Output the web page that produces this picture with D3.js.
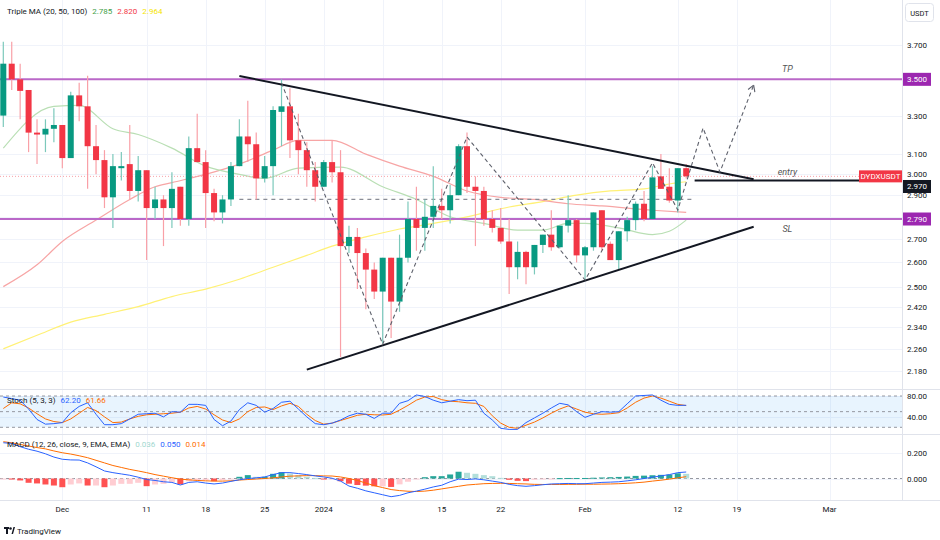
<!DOCTYPE html>
<html><head><meta charset="utf-8">
<script src="https://cdn.jsdelivr.net/npm/d3@7"></script>
<style>
body{margin:0;background:#fff;}
svg{display:block;font-family:Roboto,"Noto Sans",sans-serif;}
</style></head>
<body><svg id="c" width="940" height="540"></svg>
<script>
// ---------------- DATA ----------------
const firstDay = "2023-11-24";
const open  = [3.30,3.59,3.50,3.44,3.21,3.20,3.23,3.25,3.08,3.41,3.35,3.14,3.07,2.89,3.03,3.05,2.92,3.02,2.84,2.88,2.84,2.94,2.79,3.13,3.06,2.91,2.82,2.88,3.04,3.19,3.15,2.98,3.04,3.32,3.35,3.17,3.12,3.02,2.94,3.06,3.01,2.67,2.71,2.64,2.57,2.48,2.62,2.44,2.62,2.79,2.75,2.80,2.85,2.83,2.90,3.14,2.94,2.92,2.79,2.75,2.69,2.58,2.645,2.58,2.675,2.72,2.665,2.76,2.785,2.63,2.665,2.83,2.68,2.61,2.735,2.785,2.86,2.79,2.99,2.94,2.875,3.03];
const high  = [3.72,3.72,3.59,3.44,3.28,3.28,3.34,3.25,3.43,3.48,3.52,3.25,3.12,3.10,3.11,3.25,3.09,3.02,2.94,2.90,3.01,2.94,3.19,3.31,3.12,2.93,2.90,3.06,3.28,3.38,3.21,3.09,3.35,3.50,3.45,3.31,3.16,3.06,3.07,3.17,3.12,2.76,2.75,2.66,2.60,2.62,2.62,2.72,2.87,2.94,2.88,3.04,2.93,2.95,3.15,3.21,2.99,2.94,2.83,2.84,2.79,2.69,2.65,2.675,2.72,2.83,2.76,2.90,2.79,2.67,2.82,2.83,2.69,2.735,2.80,2.87,2.92,3.04,3.10,3.03,3.03,3.05];
const low   = [3.24,3.44,3.28,3.11,3.05,3.11,3.16,3.03,3.08,3.27,2.93,3.00,2.84,2.75,2.97,2.88,2.87,2.61,2.79,2.67,2.75,2.76,2.76,3.06,2.75,2.78,2.77,2.85,3.04,3.06,2.88,2.96,2.90,3.14,3.08,3.00,2.94,2.87,2.94,2.96,2.23,2.64,2.49,2.41,2.45,2.28,2.30,2.40,2.60,2.65,2.65,2.75,2.79,2.77,2.90,2.91,2.67,2.76,2.73,2.68,2.47,2.53,2.51,2.55,2.64,2.65,2.66,2.73,2.60,2.53,2.65,2.65,2.61,2.57,2.69,2.74,2.78,2.79,2.93,2.865,2.82,2.98];
const close = [3.59,3.50,3.435,3.21,3.20,3.23,3.25,3.08,3.41,3.35,3.14,3.07,2.89,3.04,3.04,2.92,3.02,2.84,2.88,2.84,2.93,2.79,3.13,3.06,2.91,2.82,2.88,3.04,3.19,3.15,2.98,3.04,3.33,3.35,3.17,3.12,3.02,2.94,3.06,3.01,2.67,2.71,2.64,2.57,2.48,2.62,2.44,2.62,2.79,2.75,2.80,2.85,2.83,2.90,3.14,2.94,2.92,2.79,2.75,2.69,2.58,2.645,2.58,2.675,2.72,2.665,2.76,2.785,2.63,2.665,2.82,2.665,2.61,2.735,2.785,2.86,2.79,2.985,2.93,2.875,3.03,2.99];

const ma20 = [["2023-11-24",3.13],["2023-11-30",3.35],["2023-12-03",3.355],["2023-12-07",3.23],["2023-12-10",3.20],["2023-12-14",3.13],["2023-12-18",3.04],["2023-12-22",3.00],["2023-12-25",2.98],["2023-12-29",3.03],["2024-01-03",3.035],["2024-01-08",2.94],["2024-01-12",2.88],["2024-01-16",2.80],["2024-01-20",2.77],["2024-01-24",2.74],["2024-01-27",2.74],["2024-01-30",2.77],["2024-02-01",2.77],["2024-02-05",2.75],["2024-02-09",2.72],["2024-02-11",2.735],["2024-02-13",2.785]];
const ma50 = [["2023-11-24",2.50],["2023-11-28",2.59],["2023-12-01",2.69],["2023-12-05",2.785],["2023-12-09",2.88],["2023-12-12",2.94],["2023-12-14",2.96],["2023-12-18",3.00],["2023-12-22",3.05],["2023-12-26",3.12],["2023-12-29",3.17],["2024-01-02",3.17],["2024-01-06",3.10],["2024-01-10",3.04],["2024-01-14",2.99],["2024-01-18",2.92],["2024-01-22",2.89],["2024-01-26",2.88],["2024-01-30",2.86],["2024-02-03",2.85],["2024-02-09",2.83],["2024-02-13",2.82]];
const ma100 = [["2023-11-24",2.26],["2023-11-28",2.31],["2023-12-02",2.36],["2023-12-06",2.39],["2023-12-10",2.42],["2023-12-14",2.46],["2023-12-18",2.49],["2023-12-22",2.53],["2023-12-26",2.58],["2023-12-30",2.63],["2024-01-02",2.67],["2024-01-06",2.71],["2024-01-10",2.745],["2024-01-14",2.77],["2024-01-18",2.80],["2024-01-23",2.845],["2024-01-27",2.87],["2024-01-31",2.90],["2024-02-04",2.92],["2024-02-08",2.93],["2024-02-12",2.96],["2024-02-13",2.964]];

const stochK = [78,75,72,55,35,26,27,29,48,60,67,45,25,25,27,36,45,46,47,40,50,49,64,64,62,35,23,32,54,67,62,49,56,68,70,55,40,27,25,28,34,42,47,45,37,47,47,66,71,82,79,72,67,70,73,71,72,47,34,18,16,16,29,38,47,57,66,63,50,39,45,50,49,50,65,80,81,82,72,64,62,62.2];
const stochD = [56,67,65,57,46,36,31,29,36,47,58,52,40,29,30,36,41,44,45,46,47,49,57,60,55,44,34,29,36,50,58,59,54,61,66,60,45,33,26,28,33,38,43,45,44,43.6,45,53,62,72,78,79,73,70,69,67,66,60,42,28,20,18,24,30,38,47,55,61,55,49,46,45,46,48,57,68,76,80,76,70,64,61.66];

const macdLine = [0.275,0.27,0.245,0.225,0.21,0.19,0.165,0.148,0.143,0.142,0.12,0.09,0.058,0.045,0.035,0.025,0.01,-0.008,-0.015,-0.025,-0.03,-0.05,-0.03,-0.025,-0.035,-0.042,-0.035,-0.022,-0.01,0.0,0.005,0.012,0.03,0.045,0.045,0.038,0.03,0.02,0.012,0.002,-0.02,-0.058,-0.075,-0.095,-0.11,-0.125,-0.14,-0.13,-0.11,-0.097,-0.082,-0.065,-0.052,-0.025,-0.005,-0.008,-0.003,-0.01,-0.02,-0.03,-0.045,-0.055,-0.06,-0.055,-0.048,-0.042,-0.04,-0.038,-0.04,-0.04,-0.035,-0.03,-0.028,-0.025,-0.018,-0.01,0.0,0.01,0.02,0.03,0.045,0.05];
const signalLine = [0.283,0.275,0.262,0.25,0.238,0.228,0.212,0.198,0.188,0.175,0.16,0.14,0.12,0.1,0.085,0.07,0.058,0.045,0.03,0.018,0.006,-0.005,-0.01,-0.015,-0.018,-0.02,-0.02,-0.018,-0.012,-0.008,-0.004,0.0,0.005,0.012,0.018,0.02,0.022,0.022,0.02,0.019,0.012,0.0,-0.015,-0.035,-0.055,-0.07,-0.085,-0.093,-0.098,-0.1,-0.097,-0.09,-0.08,-0.07,-0.06,-0.05,-0.045,-0.04,-0.038,-0.037,-0.038,-0.04,-0.042,-0.045,-0.046,-0.046,-0.046,-0.045,-0.045,-0.044,-0.044,-0.043,-0.042,-0.04,-0.037,-0.033,-0.028,-0.02,-0.013,-0.005,0.005,0.014];
const histogram = [-0.004,-0.008,-0.015,-0.033,-0.038,-0.046,-0.054,-0.067,-0.046,-0.038,-0.054,-0.054,-0.067,-0.054,-0.041,-0.041,-0.033,-0.059,-0.046,-0.041,-0.028,-0.046,-0.021,-0.013,-0.013,-0.021,-0.013,-0.004,0.013,0.026,0.013,0.013,0.036,0.049,0.038,0.026,0.013,0.005,-0.008,-0.008,-0.021,-0.04,-0.05,-0.055,-0.06,-0.06,-0.065,-0.045,-0.025,-0.008,0.01,0.018,0.018,0.031,0.052,0.044,0.036,0.026,0.018,0.005,-0.01,-0.018,-0.02,-0.01,-0.004,-0.002,0.003,0.004,0.004,0.004,0.006,0.008,0.01,0.012,0.015,0.02,0.022,0.025,0.028,0.03,0.04,0.036];

const priceTicks = [3.7,3.5,3.3,3.1,3.0,2.9,2.8,2.7,2.6,2.5,2.42,2.34,2.26,2.18];
const stochTicks = [80,40];
const macdTicks = [0.2,0];
const timeTickDates = ["2023-12-01","2023-12-11","2023-12-18","2023-12-25","2024-01-01","2024-01-08","2024-01-15","2024-01-22","2024-02-01","2024-02-12","2024-02-19","2024-03-01"];
const timeTickLabels = ["Dec","11","18","25","2024","8","15","22","Feb","12","19","Mar"];

// drawings (date, price)
const tpLevel = 3.5, slLevel = 2.79, entryLevel = 2.97, midLevel = 2.88;
const descTrend = [["2023-12-22",3.519],["2024-02-21",2.976]];
const ascTrend  = [["2023-12-30",2.185],["2024-02-21",2.755]];
const entryLine = [["2024-02-14",entryLevel]];
const midDashed = [["2023-12-22",midLevel],["2024-02-14",midLevel]];
const zigzag = [["2023-12-27",3.48],["2024-01-08",2.277],["2024-01-18",3.187],["2024-02-01",2.527],["2024-02-09",3.056],["2024-02-12",2.831],["2024-02-15",3.234],["2024-02-17",3.011],["2024-02-21",3.467]];
const textNotes = [["TP","2024-02-25",3.5,-7],["entry","2024-02-25",2.97,-5],["SL","2024-02-25",2.79,13]];

// ---------------- CHART ----------------
const parse = d3.timeParse("%Y-%m-%d");
const svg = d3.select("#c");
const W = 940, paneR = 902;
const mainTop = 0, mainBot = 389, stTop = 390, stBot = 434, mTop = 435, mBot = 500;
const GREEN = "#089981", RED = "#f23645";

const dates = d3.timeDay.range(parse(firstDay), d3.timeDay.offset(parse(firstDay), open.length));
const x = d3.scaleTime().domain([parse("2023-11-24"), parse("2024-02-13")]).range([3.3, 686.2]);
const y = d3.scaleLog().domain([2.18, 3.7]).range([371, 45.1]);
const yS = d3.scaleLinear().domain([20, 80]).range([427.3, 396]);
const yM = d3.scaleLinear().domain([0, 0.2]).range([478.5, 452.5]);

svg.append("rect").attr("width", W).attr("height", 540).attr("fill", "#fff");

const defs = svg.append("defs");
defs.append("clipPath").attr("id","cm").append("rect").attr("x",0).attr("y",mainTop).attr("width",paneR).attr("height",mainBot-mainTop);
defs.append("clipPath").attr("id","cs").append("rect").attr("x",0).attr("y",stTop).attr("width",paneR).attr("height",stBot-stTop);
defs.append("clipPath").attr("id","cmacd").append("rect").attr("x",0).attr("y",mTop).attr("width",paneR).attr("height",mBot-mTop);

// grid
const grid = svg.append("g").attr("stroke","#f0f3fa").attr("stroke-width",1);
timeTickDates.forEach(d => {
  const xx = Math.round(x(parse(d))) + 0.5;
  grid.append("line").attr("x1",xx).attr("x2",xx).attr("y1",0).attr("y2",mBot);
});
priceTicks.forEach(p => {
  const yy = Math.round(y(p)) + 0.5;
  grid.append("line").attr("x1",0).attr("x2",paneR).attr("y1",yy).attr("y2",yy);
});
stochTicks.forEach(v => { const yy = Math.round(yS(v))+0.5; grid.append("line").attr("x1",0).attr("x2",paneR).attr("y1",yy).attr("y2",yy); });
macdTicks.forEach(v => { const yy = Math.round(yM(v))+0.5; grid.append("line").attr("x1",0).attr("x2",paneR).attr("y1",yy).attr("y2",yy); });

// separators
const sep = svg.append("g").attr("stroke","#e0e3eb").attr("stroke-width",1);
[389.5, 434.5, 500.5].forEach(v => sep.append("line").attr("x1",0).attr("x2",W).attr("y1",v).attr("y2",v));
sep.append("line").attr("x1",paneR+0.5).attr("x2",paneR+0.5).attr("y1",0).attr("y2",mBot);

// ---------- main pane ----------
const gm = svg.append("g").attr("clip-path","url(#cm)");
const lineP = d3.line().x(d => x(parse(d[0]))).y(d => y(d[1])).curve(d3.curveMonotoneX);
gm.append("path").datum(ma100).attr("d",lineP).attr("fill","none").attr("stroke","#fff176").attr("stroke-width",1.2);
gm.append("path").datum(ma50).attr("d",lineP).attr("fill","none").attr("stroke","#f7a5a5").attr("stroke-width",1.2);
gm.append("path").datum(ma20).attr("d",lineP).attr("fill","none").attr("stroke","#b9dfb4").attr("stroke-width",1.2);

// price line (last close)
const lastClose = close[close.length-1];
gm.append("line").attr("x1",0).attr("x2",paneR).attr("y1",y(lastClose)).attr("y2",y(lastClose))
  .attr("stroke","#f7a1a8").attr("stroke-width",1).attr("stroke-dasharray","1,2");

// purple levels
[tpLevel, slLevel].forEach(l => {
  gm.append("line").attr("x1",0).attr("x2",paneR).attr("y1",y(l)).attr("y2",y(l)).attr("stroke","#ba68c8").attr("stroke-width",2);
});

// mid dashed
const lineS = d3.line().x(d => x(parse(d[0]))).y(d => y(d[1]));
gm.append("path").datum(midDashed).attr("d",lineS).attr("fill","none").attr("stroke","#8a8d96").attr("stroke-width",1.3).attr("stroke-dasharray","4,4");

// candles
const candles = gm.append("g");
dates.forEach((d,i) => {
  const up = close[i] >= open[i];
  const cx = x(d);
  candles.append("line").attr("x1",cx).attr("x2",cx).attr("y1",y(high[i])).attr("y2",y(low[i]))
    .attr("stroke", up ? "#7cc9bb" : "#f9a0a7").attr("stroke-width",1.2);
  const top = y(Math.max(open[i],close[i])), bot = y(Math.min(open[i],close[i]));
  candles.append("rect").attr("x",cx-3).attr("width",6).attr("y",top).attr("height",Math.max(1.5,bot-top))
    .attr("fill", up ? GREEN : RED);
});

// trendlines
[descTrend, ascTrend].forEach(t => {
  gm.append("path").datum(t).attr("d",lineS).attr("fill","none").attr("stroke","#131722").attr("stroke-width",2);
});
gm.append("line").attr("x1",x(parse(entryLine[0][0]))).attr("x2",paneR).attr("y1",y(entryLevel)).attr("y2",y(entryLevel))
  .attr("stroke","#131722").attr("stroke-width",2);

// zigzag projection
gm.append("path").datum(zigzag).attr("d",lineS).attr("fill","none").attr("stroke","#5d606b").attr("stroke-width",1.1).attr("stroke-dasharray","4,3");
{
  const a = zigzag[zigzag.length-2], b = zigzag[zigzag.length-1];
  const x2 = x(parse(b[0])), y2 = y(b[1]), x1 = x(parse(a[0])), y1 = y(a[1]);
  const ang = Math.atan2(y2-y1, x2-x1);
  [ang+2.6, ang-2.6].forEach(t => {
    gm.append("line").attr("x1",x2).attr("y1",y2).attr("x2",x2+7*Math.cos(t)).attr("y2",y2+7*Math.sin(t))
      .attr("stroke","#5d606b").attr("stroke-width",1.1);
  });
}

// notes
textNotes.forEach(n => {
  gm.append("text").attr("x",x(parse(n[1]))).attr("y",y(n[2])+n[3]).attr("text-anchor","middle")
    .attr("font-size",9).attr("font-style","italic").attr("fill","#555").text(n[0]);
});

// ---------- stoch pane ----------
const gs = svg.append("g").attr("clip-path","url(#cs)");
gs.append("rect").attr("x",0).attr("width",paneR).attr("y",yS(80)).attr("height",yS(20)-yS(80)).attr("fill","rgba(33,150,243,0.1)");
[80,50,20].forEach(v => gs.append("line").attr("x1",0).attr("x2",paneR).attr("y1",yS(v)).attr("y2",yS(v))
  .attr("stroke","#9598a1").attr("stroke-width",1).attr("stroke-dasharray","3,3"));
const lineSt = d3.line().x((d,i) => x(dates[i])).y(d => yS(d));
gs.append("path").datum(stochD).attr("d",lineSt).attr("fill","none").attr("stroke","#ff6d00").attr("stroke-width",1);
gs.append("path").datum(stochK).attr("d",lineSt).attr("fill","none").attr("stroke","#2962ff").attr("stroke-width",1);

// ---------- macd pane ----------
const gM = svg.append("g").attr("clip-path","url(#cmacd)");
gM.append("line").attr("x1",0).attr("x2",paneR).attr("y1",yM(0)).attr("y2",yM(0)).attr("stroke","#9598a1").attr("stroke-dasharray","3,3");
histogram.forEach((h,i) => {
  const prev = i > 0 ? histogram[i-1] : h;
  const col = h >= 0 ? (h >= prev ? "#26a69a" : "#b2dfdb") : (h < prev ? "#ff5252" : "#ffcdd2");
  const y0 = yM(0), y1 = yM(h);
  gM.append("rect").attr("x",x(dates[i])-3).attr("width",6).attr("y",Math.min(y0,y1)).attr("height",Math.max(1,Math.abs(y1-y0))).attr("fill",col);
});
const lineMc = d3.line().x((d,i) => x(dates[i])).y(d => yM(d));
gM.append("path").datum(signalLine).attr("d",lineMc).attr("fill","none").attr("stroke","#ff6d00").attr("stroke-width",1);
gM.append("path").datum(macdLine).attr("d",lineMc).attr("fill","none").attr("stroke","#2962ff").attr("stroke-width",1);

// ---------- right axis ----------
const ax = svg.append("g").attr("font-size",8).attr("fill","#131722");
const fmt3 = d3.format(".3f");
priceTicks.forEach(p => {
  if (Math.abs(y(p)-y(tpLevel))<8 || Math.abs(y(p)-y(slLevel))<8) return;
  ax.append("text").attr("x",907).attr("y",y(p)+3).text(fmt3(p));
});
stochTicks.forEach(v => ax.append("text").attr("x",907).attr("y",yS(v)+3).text(d3.format(".2f")(v)));
macdTicks.forEach(v => ax.append("text").attr("x",907).attr("y",yM(v)+3).text(fmt3(v)));

function axisLabel(val, bg, yy) {
  ax.append("rect").attr("x",903).attr("y",yy-6.5).attr("width",28).attr("height",13).attr("fill",bg);
  ax.append("text").attr("x",917).attr("y",yy+3).attr("text-anchor","middle").attr("fill","#fff").text(val);
}
axisLabel(fmt3(tpLevel), "#9c27b0", y(tpLevel));
axisLabel(fmt3(slLevel), "#9c27b0", y(slLevel));
axisLabel(fmt3(entryLevel), "#131722", y(entryLevel)+6);
// symbol label
svg.append("rect").attr("x",859).attr("y",y(lastClose)-6).attr("width",43).attr("height",12).attr("fill",RED);
svg.append("text").attr("x",880.5).attr("y",y(lastClose)+3).attr("text-anchor","middle").attr("font-size",8).attr("fill","#fff").text("DYDXUSDT");
// currency box
svg.append("rect").attr("x",905.5).attr("y",3.5).attr("width",28).attr("height",18).attr("rx",3).attr("fill","#fff").attr("stroke","#e0e3eb");
svg.append("text").attr("x",919.5).attr("y",15.5).attr("text-anchor","middle").attr("font-size",7.5).attr("fill","#131722").text("USDT");

// ---------- time axis ----------
const tx = svg.append("g").attr("font-size",8).attr("fill","#131722").attr("text-anchor","middle");
timeTickDates.forEach((d,i) => tx.append("text").attr("x",x(parse(d))).attr("y",512).text(timeTickLabels[i]));

// ---------- legends ----------
function legend(yy, title, vals) {
  const t = svg.append("text").attr("x",7).attr("y",yy).attr("font-size",8).attr("fill","#131722");
  t.append("tspan").text(title);
  vals.forEach(v => t.append("tspan").attr("dx",5).attr("fill",v[1]).text(v[0]));
}
legend(14, "Triple MA (20, 50, 100)", [[d3.format(".3f")(ma20[ma20.length-1][1]),"#43a047"],[d3.format(".3f")(ma50[ma50.length-1][1]),"#f23645"],[d3.format(".3f")(ma100[ma100.length-1][1]),"#f5e400"]]);
legend(403, "Stoch (5, 3, 3)", [[d3.format(".2f")(stochK[stochK.length-1]),"#2962ff"],[d3.format(".2f")(stochD[stochD.length-1]),"#ff6d00"]]);
legend(447, "MACD (12, 26, close, 9, EMA, EMA)", [[fmt3(histogram[histogram.length-1]),"#9fd8cf"],[fmt3(macdLine[macdLine.length-1]),"#2962ff"],[fmt3(signalLine[signalLine.length-1]),"#ff6d00"]]);

// ---------- logo ----------
const lg = svg.append("g").attr("fill","#131722");
lg.append("rect").attr("x",4).attr("y",527).attr("width",5).attr("height",2);
lg.append("rect").attr("x",6).attr("y",527).attr("width",2).attr("height",7);
lg.append("circle").attr("cx",10.5).attr("cy",528.5).attr("r",1.3);
lg.append("path").attr("d","M11.5,534 L13.5,527 L15,527 L13,534 Z");
svg.append("text").attr("x",17).attr("y",534).attr("font-size",8).attr("fill","#131722").text("TradingView");
</script></body></html>
